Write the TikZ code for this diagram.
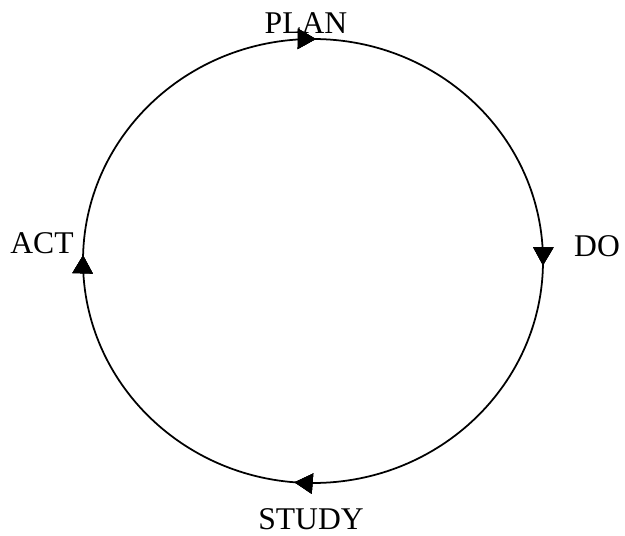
\documentclass[tikz,border=0pt]{standalone}
\usepackage{fontspec}
\setmainfont{Liberation Serif}
\usetikzlibrary{arrows.meta, decorations.markings}

\begin{document}
\begin{tikzpicture}[
    x=0.02cm, y=0.02cm,
    stage/.style={inner sep=0pt, font=\fontsize{18}{20}\selectfont},
    tip/.style={decoration={markings,
        mark=at position #1 with {\arrow{Triangle[length=3.6mm, width=4mm]}}},
        postaction={decorate}},
    cycle/.style={line width=1pt, tip=0.002, tip=0.253, tip=0.513, tip=0.754}
  ]
    \useasboundingbox (0,0) rectangle (625,535);

    % Cycle
    \coordinate (top) at (313,496);
    \draw[cycle] (top) arc [start angle=90, end angle=-270, x radius=230, y radius=222];

    % Stages
    \node[stage] (plan) at (306,512) {PLAN};
    \node[stage] (do) at (597,289) {DO};
    \node[stage] (study) at (311,16) {STUDY};
    \node[stage] (act) at (42,292) {ACT};

\end{tikzpicture}
\end{document}
